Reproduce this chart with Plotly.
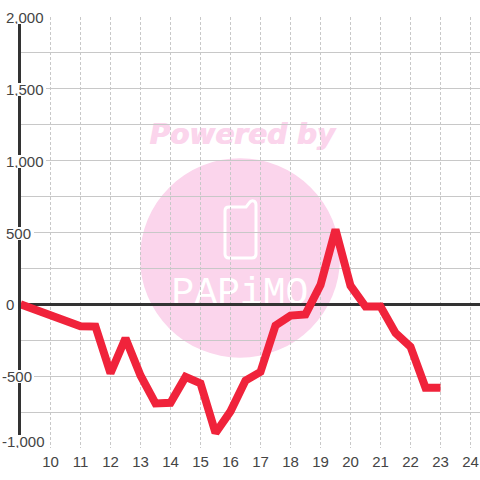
import plotly.graph_objects as go

hours = [9, 9.5, 10, 10.5, 11, 11.5, 12, 12.5, 13, 13.5, 14, 14.5, 15, 15.5, 16, 16.5,
         17, 17.5, 18, 18.5, 19, 19.5, 20, 20.5, 21, 21.5, 22, 22.5, 23]
values = [0, -38, -76, -114, -153, -155, -480, -236, -495, -690, -685, -505, -550, -895,
          -745, -530, -470, -147, -78, -70, 135, 520, 130, -15, -15, -200, -295, -580, -580]
x_ticks = list(range(10, 25))
y_grid_step = 250
y_tick_vals = [2000, 1500, 1000, 500, 0, -500, -1000]
y_tick_text = ["2,000", "1,500", "1,000", "500", "0", "-500", "-1,000"]

INK = "#333333"
TXT = "#444444"
GRID = "#c8c8c8"
PINK = "#FBD5EC"
RED = "#F0233B"
FONT = "Liberation Sans"

W, H = 480, 480
L, R, T, B = 21, 0, 16.5, 31.5
PW, PH = W - L - R, H - T - B


def px(x):
    return (x - L) / PW


def py(y):
    return 1 - (y - T) / PH


def pt(x, y):
    return f"{px(x):.5f},{py(y):.5f}"


fig = go.Figure()
fig.add_trace(go.Scatter(x=hours, y=values, mode="lines", cliponaxis=False, hoverinfo="skip",
                         line=dict(color=RED, width=8)))

phone = ("M " + pt(229, 207) + " L " + pt(246, 207) + " L " + pt(249, 203) + " Q " + pt(251, 200) + " " + pt(254, 201)
         + " Q " + pt(256, 202) + " " + pt(256, 205) + " L " + pt(256, 254) + " Q " + pt(256, 258) + " " + pt(252, 258)
         + " L " + pt(229, 258) + " Q " + pt(225, 258) + " " + pt(225, 254) + " L " + pt(225, 211)
         + " Q " + pt(225, 207) + " " + pt(229, 207) + " Z")

shapes = [
    dict(type="circle", xref="paper", yref="paper", layer="below", line=dict(width=0), fillcolor=PINK,
         x0=px(140), x1=px(340), y0=py(358), y1=py(158)),
    dict(type="path", xref="paper", yref="paper", layer="below", path=phone,
         line=dict(color="white", width=3)),
    dict(type="rect", xref="paper", yref="paper", layer="below", line=dict(width=0), fillcolor="rgba(0,0,0,0)",
         x0=px(140), x1=px(344), y0=py(150), y1=py(114),
         label=dict(text="<b><i>Powered by</i></b>", textposition="middle center",
                    font=dict(family="DejaVu Sans", size=28, color=PINK, shadow="1px 0 0 #FBD5EC"))),
    dict(type="rect", xref="paper", yref="paper", layer="below", line=dict(width=0), fillcolor="rgba(0,0,0,0)",
         x0=px(160), x1=px(320), y0=py(306), y1=py(270),
         label=dict(text="PAPiMO", textposition="middle center",
                    font=dict(family="Liberation Mono", size=38, color="white"))),
]

box_width = {"2,000": 40, "1,500": 40, "1,000": 40, "500": 28, "0": 12, "-500": 32, "-1,000": 44}
annotations = []
for v, t in zip(y_tick_vals, y_tick_text):
    left = 2 if t.startswith("-") else 6
    shift = 6.5 if v == -1000 else -0.5
    annotations.append(dict(xref="paper", yref="y", x=px(left), y=v, yshift=shift, text=t, showarrow=False,
                            xanchor="left", yanchor="middle", align="left", width=box_width[t], height=13,
                            bgcolor="white", borderpad=0, borderwidth=0,
                            font=dict(family=FONT, size=15, color=TXT)))

fig.update_layout(
    width=W, height=H, margin=dict(l=L, r=R, t=T, b=B, pad=0, autoexpand=False),
    paper_bgcolor="white", plot_bgcolor="white", showlegend=False,
    shapes=shapes, annotations=annotations,
    xaxis=dict(range=[9 + 0.5 / 30, 9 + 0.5 / 30 + PW / 30], tickvals=x_ticks, ticktext=[str(v) for v in x_ticks],
               showgrid=True, gridcolor=GRID, griddash="3px,2px", gridwidth=1, zeroline=False, showline=False,
               ticks="", ticklabelstandoff=3, tickfont=dict(family=FONT, size=15, color=TXT)),
    yaxis=dict(range=[-1000, 2000], dtick=y_grid_step, tick0=0, showticklabels=False, showgrid=True,
               gridcolor=GRID, gridwidth=1, zeroline=True, zerolinecolor=INK, zerolinewidth=3,
               showline=True, linecolor=INK, linewidth=3, ticks=""),
)

fig.write_html("out.html", config={"displayModeBar": False},
               post_script="document.body.style.margin='0';document.documentElement.style.overflow='hidden';")
